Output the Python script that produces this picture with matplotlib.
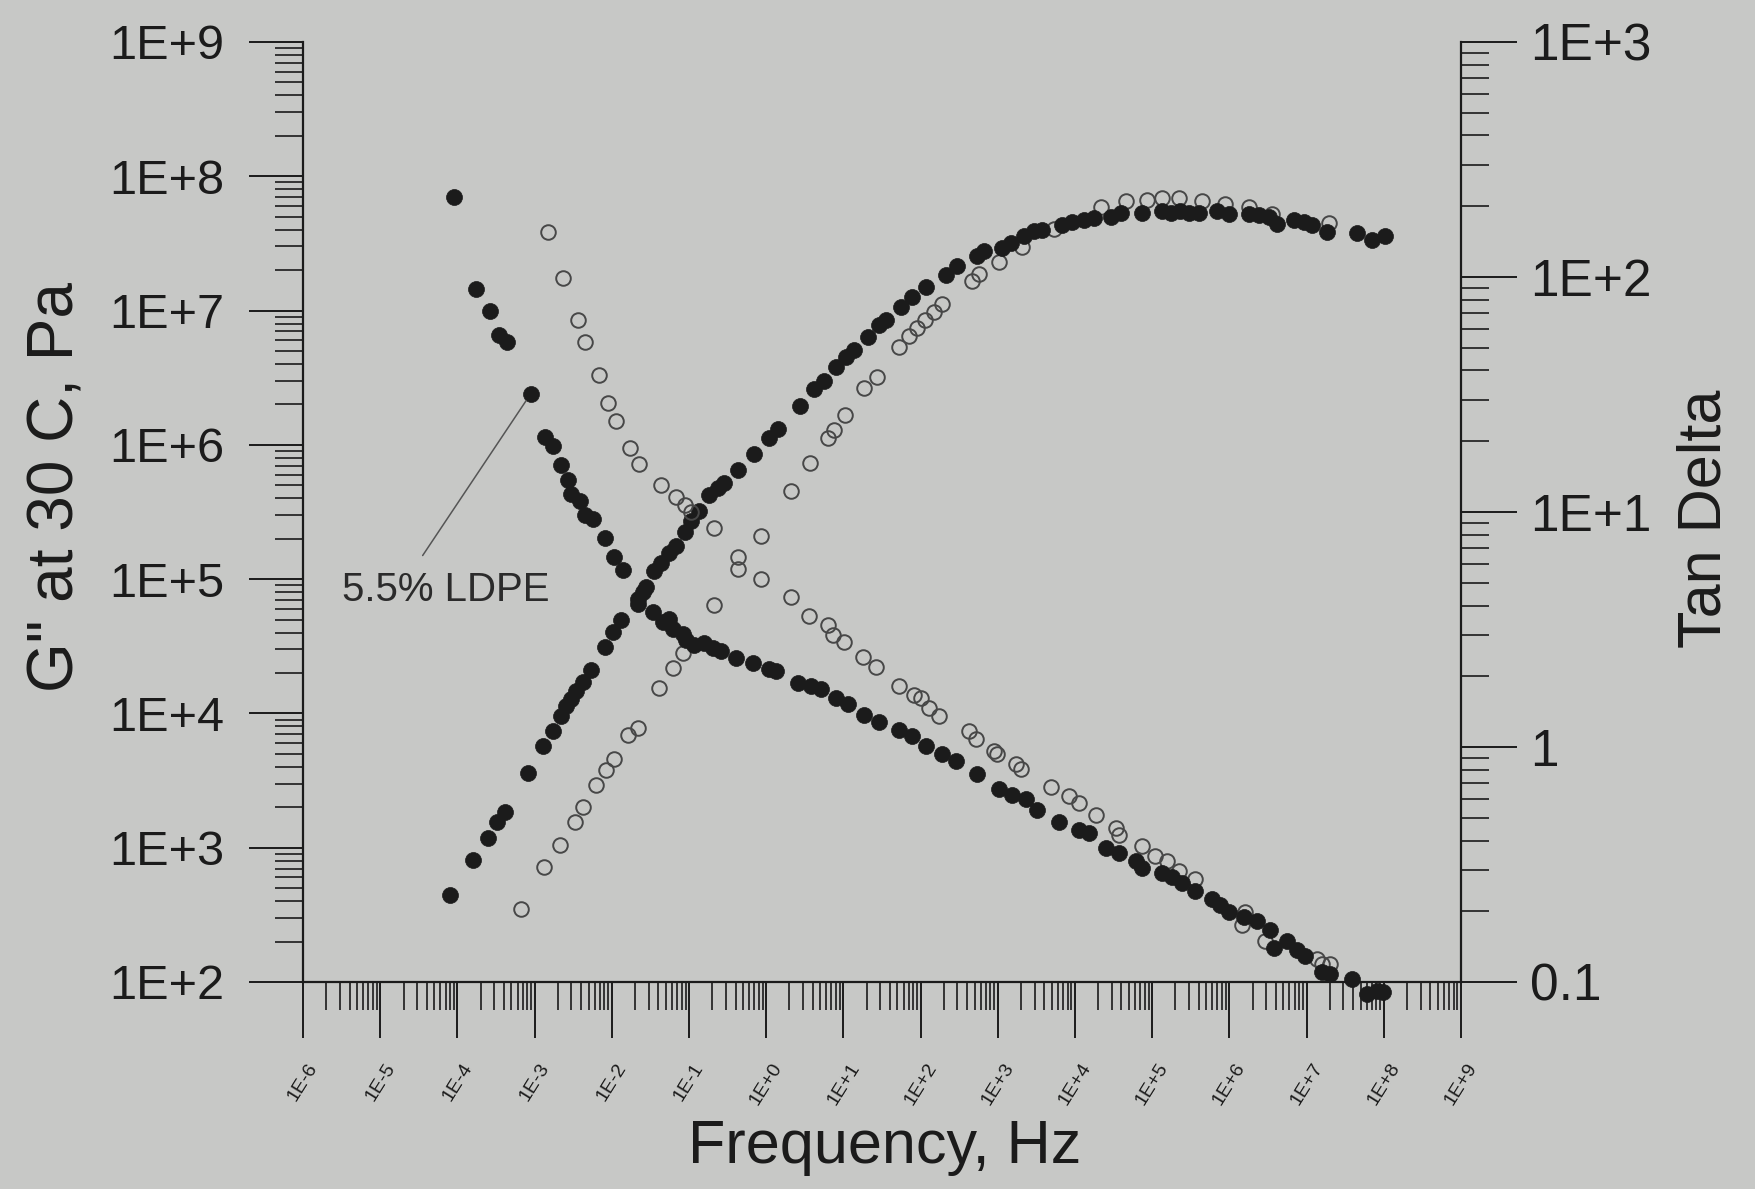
import matplotlib
matplotlib.use("Agg")
import matplotlib.pyplot as plt
from matplotlib.ticker import LogLocator, FixedLocator, FixedFormatter, NullFormatter

plt.rcParams['font.family'] = ['Liberation Sans', 'DejaVu Sans']

# ---- G'' (left axis), filled circles ----
freq_g_solid = [7.94e-5, 1.59e-4, 2.49e-4, 3.25e-4, 4.09e-4, 8.18e-4, 1.28e-3, 1.73e-3, 2.21e-3, 2.57e-3,
                2.99e-3, 3.46e-3, 4.22e-3, 5.41e-3, 8.05e-3, 1.03e-2, 1.32e-2, 2.17e-2, 2.52e-2, 2.79e-2,
                3.56e-2, 4.36e-2, 5.57e-2, 6.81e-2, 8.73e-2, 0.106, 0.136, 0.184, 0.235, 0.287,
                0.427, 0.701, 1.10, 1.41, 2.76, 4.19, 5.53, 8.00, 10.8, 13.8,
                20.5, 29.0, 35.5, 55.5, 78.3, 117, 212, 299, 543, 664,
                1.14e3, 1.47e3, 2.18e3, 2.94e3, 3.77e3, 6.82e3, 9.20e3, 1.30e4, 1.76e4, 2.89e4,
                3.89e4, 7.41e4, 1.34e5, 1.73e5, 2.32e5, 2.98e5, 4.01e5, 6.92e5, 9.79e5, 1.78e6,
                2.39e6, 3.22e6, 4.13e6, 6.78e6, 9.14e6, 1.17e7, 1.83e7, 4.48e7, 7.00e7, 1.04e8]
g_solid = [4.47e2, 8.10e2, 1.19e3, 1.55e3, 1.85e3, 3.63e3, 5.74e3, 7.43e3, 9.60e3, 1.14e4,
           1.28e4, 1.48e4, 1.71e4, 2.09e4, 3.12e4, 4.04e4, 4.95e4, 6.58e4, 8.05e4, 8.77e4,
           1.14e5, 1.31e5, 1.56e5, 1.75e5, 2.26e5, 2.69e5, 3.19e5, 4.26e5, 4.77e5, 5.19e5,
           6.46e5, 8.59e5, 1.13e6, 1.31e6, 1.96e6, 2.61e6, 3.01e6, 3.79e6, 4.50e6, 5.06e6,
           6.37e6, 7.78e6, 8.48e6, 1.07e7, 1.27e7, 1.51e7, 1.85e7, 2.14e7, 2.55e7, 2.77e7,
           2.94e7, 3.21e7, 3.61e7, 3.94e7, 3.95e7, 4.31e7, 4.57e7, 4.71e7, 4.86e7, 5.00e7,
           5.31e7, 5.31e7, 5.50e7, 5.35e7, 5.50e7, 5.35e7, 5.36e7, 5.53e7, 5.22e7, 5.25e7,
           5.11e7, 4.97e7, 4.44e7, 4.71e7, 4.58e7, 4.34e7, 3.87e7, 3.78e7, 3.38e7, 3.58e7]

# ---- G'' (left axis), open circles ----
freq_g_open = [6.73e-4, 1.31e-3, 2.10e-3, 3.29e-3, 4.22e-3, 6.28e-3, 8.47e-3, 1.08e-2, 1.61e-2, 2.17e-2,
               4.14e-2, 6.15e-2, 8.30e-2, 0.213, 0.427, 0.857, 2.09, 3.69, 6.22, 7.60,
               10.5, 18.6, 27.6, 52.7, 71.0, 90.2, 114, 150, 191, 468,
               571, 1.04e3, 2.07e3, 5.33e3, 2.14e4, 4.52e4, 8.59e4, 1.34e5, 2.21e5, 4.43e5,
               8.87e5, 1.78e6, 3.56e6, 1.93e7]
g_open = [3.48e2, 7.13e2, 1.04e3, 1.55e3, 2.00e3, 2.91e3, 3.78e3, 4.61e3, 6.90e3, 7.73e3,
          1.54e4, 2.17e4, 2.81e4, 6.47e4, 1.18e5, 2.10e5, 4.56e5, 7.29e5, 1.13e6, 1.28e6,
          1.66e6, 2.63e6, 3.21e6, 5.38e6, 6.41e6, 7.43e6, 8.55e6, 9.82e6, 1.11e7, 1.66e7,
          1.86e7, 2.28e7, 2.96e7, 4.06e7, 5.93e7, 6.49e7, 6.69e7, 6.90e7, 6.91e7, 6.55e7,
          6.20e7, 5.87e7, 5.26e7, 4.47e7]

# ---- Tan delta (right axis), filled circles ----
freq_td_solid = [9.04e-5, 1.76e-4, 2.62e-4, 3.45e-4, 4.39e-4, 8.87e-4, 1.35e-3, 1.73e-3, 2.21e-3, 2.70e-3,
                 2.99e-3, 3.82e-3, 4.44e-3, 5.69e-3, 8.05e-3, 1.08e-2, 1.39e-2, 2.17e-2, 3.39e-2, 4.57e-2,
                 5.57e-2, 6.15e-2, 8.30e-2, 9.18e-2, 0.117, 0.158, 0.203, 0.260, 0.406, 0.667,
                 1.10, 1.34, 2.55, 3.80, 5.12, 8.00, 11.3, 18.6, 29.0, 52.6,
                 78.3, 117, 191, 285, 543, 1.04e3, 1.54e3, 2.30e3, 3.24e3, 6.19e3,
                 1.12e4, 1.51e4, 2.49e4, 3.70e4, 6.08e4, 7.41e4, 1.34e5, 1.81e5, 2.44e5, 3.63e5,
                 5.96e5, 7.66e5, 9.79e5, 1.53e6, 2.28e6, 3.40e6, 3.74e6, 5.56e6, 7.50e6, 9.64e6,
                 1.58e7, 2.03e7, 3.85e7, 6.03e7, 8.13e7, 9.91e7]
td_solid = [219, 88.9, 71.9, 56.4, 52.8, 31.8, 20.9, 19.0, 15.9, 13.7,
            11.9, 11.1, 9.75, 9.31, 7.78, 6.41, 5.64, 4.27, 3.75, 3.40,
            3.52, 3.19, 3.04, 2.85, 2.72, 2.76, 2.63, 2.55, 2.39, 2.28,
            2.14, 2.11, 1.88, 1.82, 1.77, 1.61, 1.53, 1.37, 1.28, 1.18,
            1.11, 1.01, 0.930, 0.871, 0.766, 0.663, 0.622, 0.603, 0.538, 0.481,
            0.444, 0.430, 0.372, 0.354, 0.327, 0.306, 0.292, 0.279, 0.265, 0.245,
            0.226, 0.212, 0.199, 0.189, 0.181, 0.167, 0.139, 0.149, 0.137, 0.129,
            0.110, 0.108, 0.103, 0.089, 0.092, 0.091]

# ---- Tan delta (right axis), open circles ----
freq_td_open = [1.49e-3, 2.32e-3, 3.63e-3, 4.53e-3, 6.73e-3, 8.87e-3, 1.12e-2, 1.73e-2, 2.23e-2, 4.36e-2,
                6.81e-2, 8.73e-2, 0.106, 0.213, 0.427, 0.857, 2.09, 3.61, 6.22, 7.23,
                10.2, 17.7, 26.3, 52.7, 82.4, 101, 129, 173, 424, 518,
                893, 986, 1.71e3, 1.98e3, 4.83e3, 8.34e3, 1.12e4, 1.85e4, 3.36e4, 3.70e4,
                7.41e4, 1.10e5, 1.56e5, 2.21e5, 3.63e5, 1.46e6, 1.61e6, 2.92e6, 1.36e7, 1.58e7,
                2.03e7]
td_open = [156, 98.6, 65.8, 52.8, 38.1, 29.0, 24.4, 18.8, 16.0, 13.0,
           11.6, 10.7, 10.0, 8.51, 6.41, 5.21, 4.33, 3.62, 3.29, 2.99,
           2.79, 2.42, 2.19, 1.81, 1.67, 1.62, 1.47, 1.35, 1.17, 1.08,
           0.964, 0.933, 0.847, 0.807, 0.676, 0.617, 0.576, 0.514, 0.452, 0.424,
           0.379, 0.344, 0.328, 0.298, 0.274, 0.175, 0.199, 0.149, 0.125, 0.119,
           0.119]

x_ticks = [10.0 ** e for e in range(-6, 10)]
x_labels = ['1E-6', '1E-5', '1E-4', '1E-3', '1E-2', '1E-1', '1E+0', '1E+1',
            '1E+2', '1E+3', '1E+4', '1E+5', '1E+6', '1E+7', '1E+8', '1E+9']
g_ticks = [1e2, 1e3, 1e4, 1e5, 1e6, 1e7, 1e8, 1e9]
g_labels = ['1E+2', '1E+3', '1E+4', '1E+5', '1E+6', '1E+7', '1E+8', '1E+9']
td_ticks = [0.1, 1, 10, 100, 1000]
td_labels = ['0.1', '1', '1E+1', '1E+2', '1E+3']

BG = '#c7c8c6'
INK = '#1b1b1b'
OPEN = '#474747'

fig = plt.figure(figsize=(17.56, 11.89), dpi=100, facecolor=BG)
ax = fig.add_axes([0.1726, 0.1741, 0.6594, 0.7906])
ax.set_facecolor('none')
ax2 = ax.twinx()
ax2.set_facecolor('none')

ax.set_xscale('log')
ax.set_yscale('log')
ax2.set_yscale('log')
ax.set_xlim(1e-6, 1e9)
ax.set_ylim(1e2, 1e9)
ax2.set_ylim(0.1, 1e3)

# data
ax.plot(freq_g_open, g_open, linestyle='none', marker='o', ms=10.5,
        mfc='none', mec=OPEN, mew=1.4, clip_on=False)
ax.plot(freq_g_solid, g_solid, linestyle='none', marker='o', ms=11.5,
        mfc=INK, mec=INK, mew=0.5, clip_on=False)
ax2.plot(freq_td_open, td_open, linestyle='none', marker='o', ms=10.5,
         mfc='none', mec=OPEN, mew=1.4, clip_on=False)
ax2.plot(freq_td_solid, td_solid, linestyle='none', marker='o', ms=11.5,
         mfc=INK, mec=INK, mew=0.5, clip_on=False)

# spines
for a in (ax, ax2):
    a.spines['top'].set_visible(False)
    for s in a.spines.values():
        s.set_linewidth(1.6)
        s.set_color(INK)
ax.spines['right'].set_visible(False)
ax2.spines['left'].set_visible(False)
ax2.spines['bottom'].set_visible(False)

# x axis ticks
ax.xaxis.set_major_locator(FixedLocator(x_ticks))
ax.xaxis.set_major_formatter(FixedFormatter(x_labels))
ax.xaxis.set_minor_locator(LogLocator(base=10, subs=range(2, 10), numticks=100))
ax.xaxis.set_minor_formatter(NullFormatter())
ax.tick_params(axis='x', which='major', direction='out', length=40, width=1.4,
               color=INK, labelsize=14, pad=16, labelcolor=INK)
ax.tick_params(axis='x', which='minor', direction='out', length=20, width=1.2, color=INK)
for lab in ax.get_xticklabels():
    lab.set_rotation(58)
    lab.set_ha('center')

# left axis ticks
ax.yaxis.set_major_locator(FixedLocator(g_ticks))
ax.yaxis.set_major_formatter(FixedFormatter(g_labels))
ax.yaxis.set_minor_locator(LogLocator(base=10, subs=range(2, 10), numticks=100))
ax.yaxis.set_minor_formatter(NullFormatter())
ax.tick_params(axis='y', which='major', direction='out', length=39, width=1.4,
               color=INK, labelsize=35, pad=18, labelcolor=INK)
ax.tick_params(axis='y', which='minor', direction='out', length=20, width=1.2, color=INK)

# right axis ticks
ax2.yaxis.set_major_locator(FixedLocator(td_ticks))
ax2.yaxis.set_major_formatter(FixedFormatter(td_labels))
ax2.yaxis.set_minor_locator(LogLocator(base=10, subs=range(2, 10), numticks=100))
ax2.yaxis.set_minor_formatter(NullFormatter())
ax2.tick_params(axis='y', which='major', direction='out', length=40, width=1.4,
                color=INK, labelsize=37, pad=10, labelcolor=INK)
ax2.tick_params(axis='y', which='minor', direction='out', length=20, width=1.2, color=INK)

# axis titles
fig.text(0.032, 0.590, 'G" at 30 C, Pa', rotation=90, ha='center', va='center',
         fontsize=46, color=INK)
fig.text(0.971, 0.564, 'Tan Delta', rotation=90, ha='center', va='center',
         fontsize=44, color=INK)
fig.text(0.504, 0.035, 'Frequency, Hz', ha='center', va='center',
         fontsize=44, color=INK)

# leader label
ax2.annotate('5.5% LDPE', xy=(freq_td_solid[5], td_solid[5]),
             xytext=(0.123, 0.417), textcoords='axes fraction',
             ha='center', va='center', fontsize=29, color='#2b2b2b',
             arrowprops=dict(arrowstyle='-', color='#555555', lw=1.1,
                             relpos=(0.34, 1.0), shrinkA=11, shrinkB=6))

fig.savefig('out.png', dpi=100, facecolor=BG)
